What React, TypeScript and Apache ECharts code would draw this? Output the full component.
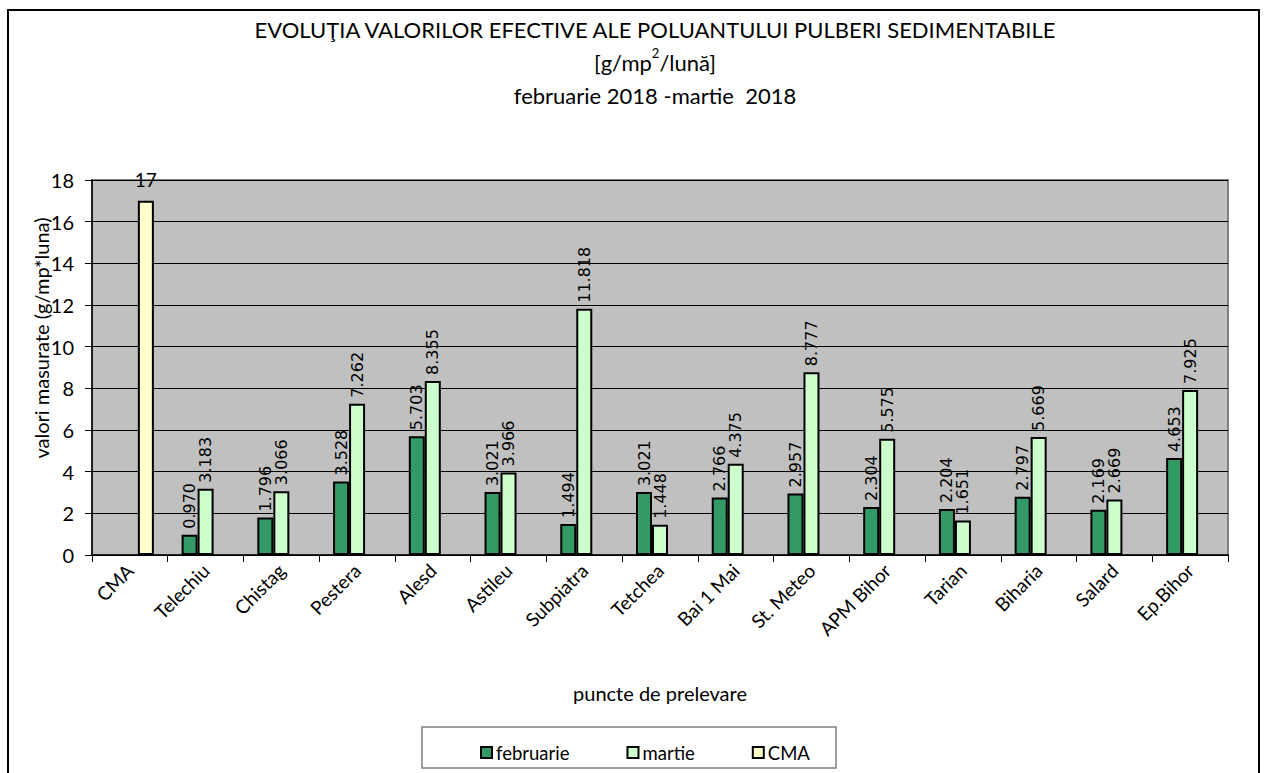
import React, { useEffect, useRef } from "react";
import * as echarts from "echarts";

const categories = ["CMA", "Telechiu", "Chistag", "Pestera", "Alesd", "Astileu", "Subpiatra", "Tetchea", "Bai 1 Mai", "St. Meteo", "APM Bihor", "Tarian", "Biharia", "Salard", "Ep.Bihor"];
const februarie = [null, 0.97, 1.796, 3.528, 5.703, 3.021, 1.494, 3.021, 2.766, 2.957, 2.304, 2.204, 2.797, 2.169, 4.653];
const martie = [null, 3.183, 3.066, 7.262, 8.355, 3.966, 11.818, 1.448, 4.375, 8.777, 5.575, 1.651, 5.669, 2.669, 7.925];
const cma = [17, null, null, null, null, null, null, null, null, null, null, null, null, null, null];
const yTicks = { min: 0, max: 18, interval: 2 };

const FONT = "Lato";
const LABEL_FONT = "DejaVu Sans";

export default function App() {
  const ref = useRef<HTMLDivElement>(null);
  useEffect(() => {
    document.body.style.margin = "0";
    const chart = echarts.init(ref.current!, null, { renderer: "svg" });
    const rotLabel = {
      show: true,
      position: "top",
      rotate: 90,
      align: "left",
      verticalAlign: "middle",
      distance: 6,
      fontFamily: LABEL_FONT,
      fontSize: 16,
      color: "#000",
      formatter: (p: any) => (p.value == null ? "" : Number(p.value).toFixed(3)),
    };
    chart.setOption({
      animation: false,
      backgroundColor: "#fff",
      textStyle: { fontFamily: FONT },
      graphic: [
        { type: "rect", shape: { x: 8, y: 10, width: 1251, height: 800 }, style: { fill: "none", stroke: "#000", lineWidth: 2 }, silent: true },
        {
          type: "text",
          x: 655,
          y: 13,
          style: {
            text: "{a|EVOLUŢIA VALORILOR EFECTIVE ALE POLUANTULUI PULBERI SEDIMENTABILE}\n{a|[g/mp}{s|2}{a|/lună]}\n{a|februarie 2018 -martie  2018}",
            align: "center",
            verticalAlign: "top",
            fill: "#000",
            rich: {
              a: { fontFamily: FONT, fontSize: 22, lineHeight: 33, color: "#000" },
              s: { fontFamily: FONT, fontSize: 13, lineHeight: 33, verticalAlign: "top", padding: [0, 0, 6, 0], color: "#000" },
            },
          },
        },
        {
          type: "text",
          x: 41,
          y: 338,
          rotation: Math.PI / 2,
          style: { text: "valori masurate (g/mp*luna)", align: "center", verticalAlign: "middle", fontFamily: FONT, fontSize: 20, fill: "#000" },
        },
        { type: "rect", shape: { x: 422, y: 727, width: 414, height: 41 }, style: { fill: "#fff", stroke: "#808080", lineWidth: 1.5 }, silent: true },
      ],
      legend: {
        data: [
          { name: "februarie", icon: "rect" },
          { name: "martie", icon: "rect" },
          { name: "CMA", icon: "rect" },
        ],
        left: 475,
        top: 738,
        itemWidth: 11,
        itemHeight: 11,
        itemGap: 57,
        textStyle: { fontFamily: FONT, fontSize: 18.5, color: "#000", padding: [0, 0, 0, -1] },
      },
      grid: { left: 92, right: 36, top: 180, bottom: 218, show: true, backgroundColor: "#C0C0C0", borderColor: "#808080", borderWidth: 2 },
      xAxis: {
        type: "category",
        data: categories,
        name: "puncte de prelevare",
        nameLocation: "middle",
        nameGap: 128,
        nameTextStyle: { fontFamily: FONT, fontSize: 20, color: "#000" },
        axisLine: { lineStyle: { color: "#000", width: 1.5 } },
        axisTick: { show: true, length: 7, lineStyle: { color: "#000" } },
        axisLabel: { rotate: 45, fontFamily: FONT, fontSize: 19, color: "#000", margin: 12, interval: 0 },
      },
      yAxis: {
        type: "value",
        ...yTicks,
        axisLine: { show: true, lineStyle: { color: "#000", width: 1.5 } },
        axisTick: { show: true, length: 7, lineStyle: { color: "#000" } },
        axisLabel: { fontFamily: FONT, fontSize: 20, color: "#000", margin: 18 },
        splitLine: { lineStyle: { color: "#000", width: 1 } },
      },
      series: [
        { name: "februarie", type: "bar", data: februarie, barWidth: 16, barGap: "0%", itemStyle: { color: "#339966", borderColor: "#000", borderWidth: 2 }, label: rotLabel },
        { name: "martie", type: "bar", data: martie, barWidth: 16, barGap: "0%", itemStyle: { color: "#CCFFCC", borderColor: "#000", borderWidth: 2 }, label: rotLabel },
        {
          name: "CMA",
          type: "bar",
          data: cma,
          barWidth: 16,
          barGap: "0%",
          itemStyle: { color: "#FFFFCC", borderColor: "#000", borderWidth: 2 },
          label: { show: true, position: "top", distance: 12, fontFamily: FONT, fontSize: 19, color: "#000", formatter: (p: any) => (p.value == null ? "" : String(p.value)) },
        },
      ],
    });
    return () => chart.dispose();
  }, []);
  return <div ref={ref} style={{ width: 1264, height: 773 }} />;
}
